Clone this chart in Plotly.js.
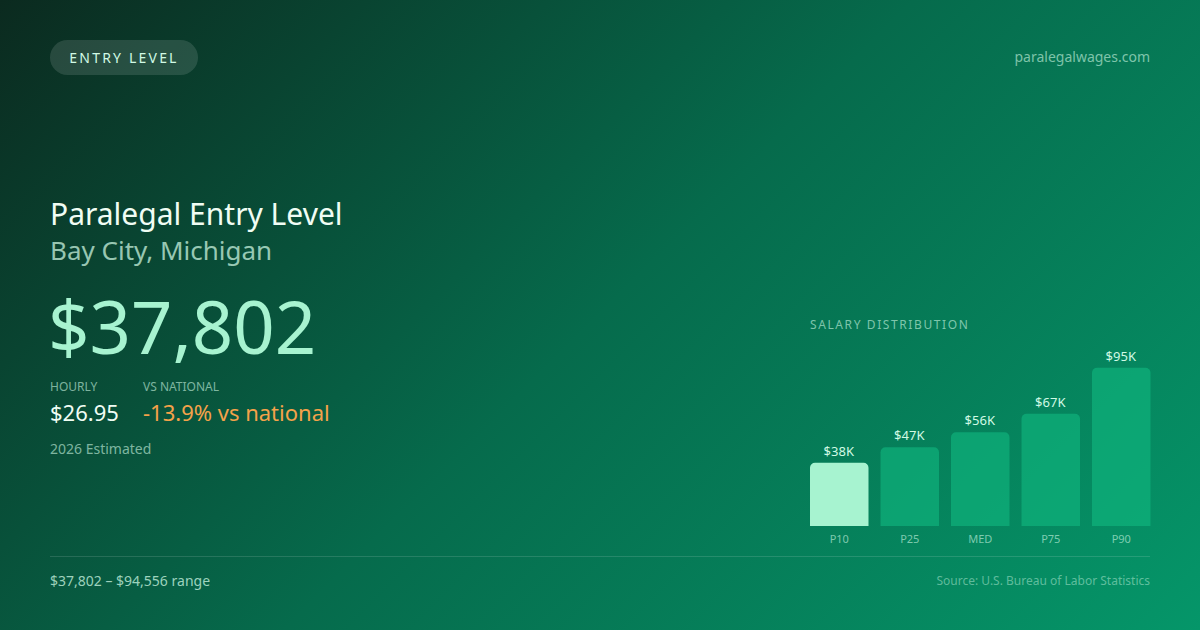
<!DOCTYPE html>
<html>
<head>
<meta charset="utf-8">
<script src="https://cdn.plot.ly/plotly-3.0.1.min.js"></script>
<style>
  html, body { margin:0; padding:0; width:1200px; height:630px; overflow:hidden; }
  body { background: linear-gradient(135deg, #0b2a1f 0%, #066b4c 50%, #059669 100%); font-family: "Noto Sans", sans-serif; position:relative; }
  #chart { position:absolute; left:0; top:0; width:1200px; height:630px; }
  .t { position:absolute; white-space:nowrap; line-height:1; }
  #badge { position:absolute; left:50px; top:40px; width:148px; height:35px; border-radius:18px; background:rgba(255,255,255,0.12); color:#d1fae5; font-size:14px; letter-spacing:2.2px; display:flex; align-items:center; justify-content:center; }
  #rule { position:absolute; left:50px; top:556px; width:1100px; height:1px; background:rgba(255,255,255,0.13); }
</style>
</head>
<body>
<div id="chart"></div>
<div id="badge">ENTRY LEVEL</div>
<div class="t" style="right:50px; top:50px; font-size:14px; color:rgba(209,250,229,0.6);">paralegalwages.com</div>
<div class="t" style="left:50px; top:199px; font-size:30px; color:#f0fdf4;">Paralegal Entry Level</div>
<div class="t" style="left:50px; top:237px; font-size:26px; color:rgba(209,250,229,0.72);">Bay City, Michigan</div>
<div class="t" style="left:48px; top:290px; font-size:72.5px; color:#a7f3d0;">$37,802</div>
<div class="t" style="left:50px; top:381px; font-size:12px; color:rgba(209,250,229,0.6);">HOURLY</div>
<div class="t" style="left:143px; top:381px; font-size:12px; color:rgba(209,250,229,0.6);">VS NATIONAL</div>
<div class="t" style="left:50px; top:401px; font-size:22px; color:#f0fdf4;">$26.95</div>
<div class="t" style="left:143px; top:401px; font-size:22px; color:#f4a24a;">-13.9% vs national</div>
<div class="t" style="left:50px; top:442px; font-size:14px; color:rgba(209,250,229,0.6);">2026 Estimated</div>
<div class="t" style="left:810px; top:319px; font-size:12px; letter-spacing:1.6px; color:rgba(209,250,229,0.6);">SALARY DISTRIBUTION</div>
<div id="rule"></div>
<div class="t" style="left:50px; top:574px; font-size:14px; color:rgba(209,250,229,0.75);">$37,802 – $94,556 range</div>
<div class="t" style="right:50px; top:575px; font-size:12px; color:rgba(209,250,229,0.45);">Source: U.S. Bureau of Labor Statistics</div>
<script>
const categories = ["P10", "P25", "MED", "P75", "P90"];
const salaries = [37802, 47000, 56000, 67000, 94556];
const barLabels = salaries.map(v => "$" + Math.round(v / 1000) + "K");
const barColors = ["#a7f3d0", "rgba(16,185,129,0.6)", "rgba(16,185,129,0.6)", "rgba(16,185,129,0.6)", "rgba(16,185,129,0.6)"];

const W = 1200, H = 630;
const xDomPx = [804, 1156.5];
const yBottom = 526, pxPerK = 1.674;
const yTopPx = 340;
const yMax = (yBottom - yTopPx) / pxPerK * 1000;

const trace = {
  type: "bar",
  x: categories,
  y: salaries,
  text: barLabels,
  textposition: "outside",
  cliponaxis: false,
  textfont: { family: "Noto Sans", size: 13, color: "#d1fae5" },
  marker: { color: barColors, cornerradius: 5, line: { width: 0 } },
  hoverinfo: "skip"
};

const layout = {
  width: W, height: H,
  margin: { l: 0, r: 0, t: 0, b: 0 },
  paper_bgcolor: "rgba(0,0,0,0)",
  plot_bgcolor: "rgba(0,0,0,0)",
  showlegend: false,
  bargap: 12 / 70.5,
  xaxis: {
    domain: [xDomPx[0] / W, xDomPx[1] / W],
    showgrid: false, zeroline: false, showline: false, ticks: "",
    tickfont: { family: "Noto Sans", size: 11, color: "rgba(209,250,229,0.6)" },
    ticklabelstandoff: 5,
    fixedrange: true
  },
  yaxis: {
    domain: [1 - yBottom / H, 1 - yTopPx / H],
    range: [0, yMax],
    visible: false,
    fixedrange: true
  }
};

Plotly.newPlot("chart", [trace], layout, { displayModeBar: false, staticPlot: true });
</script>
</body>
</html>
